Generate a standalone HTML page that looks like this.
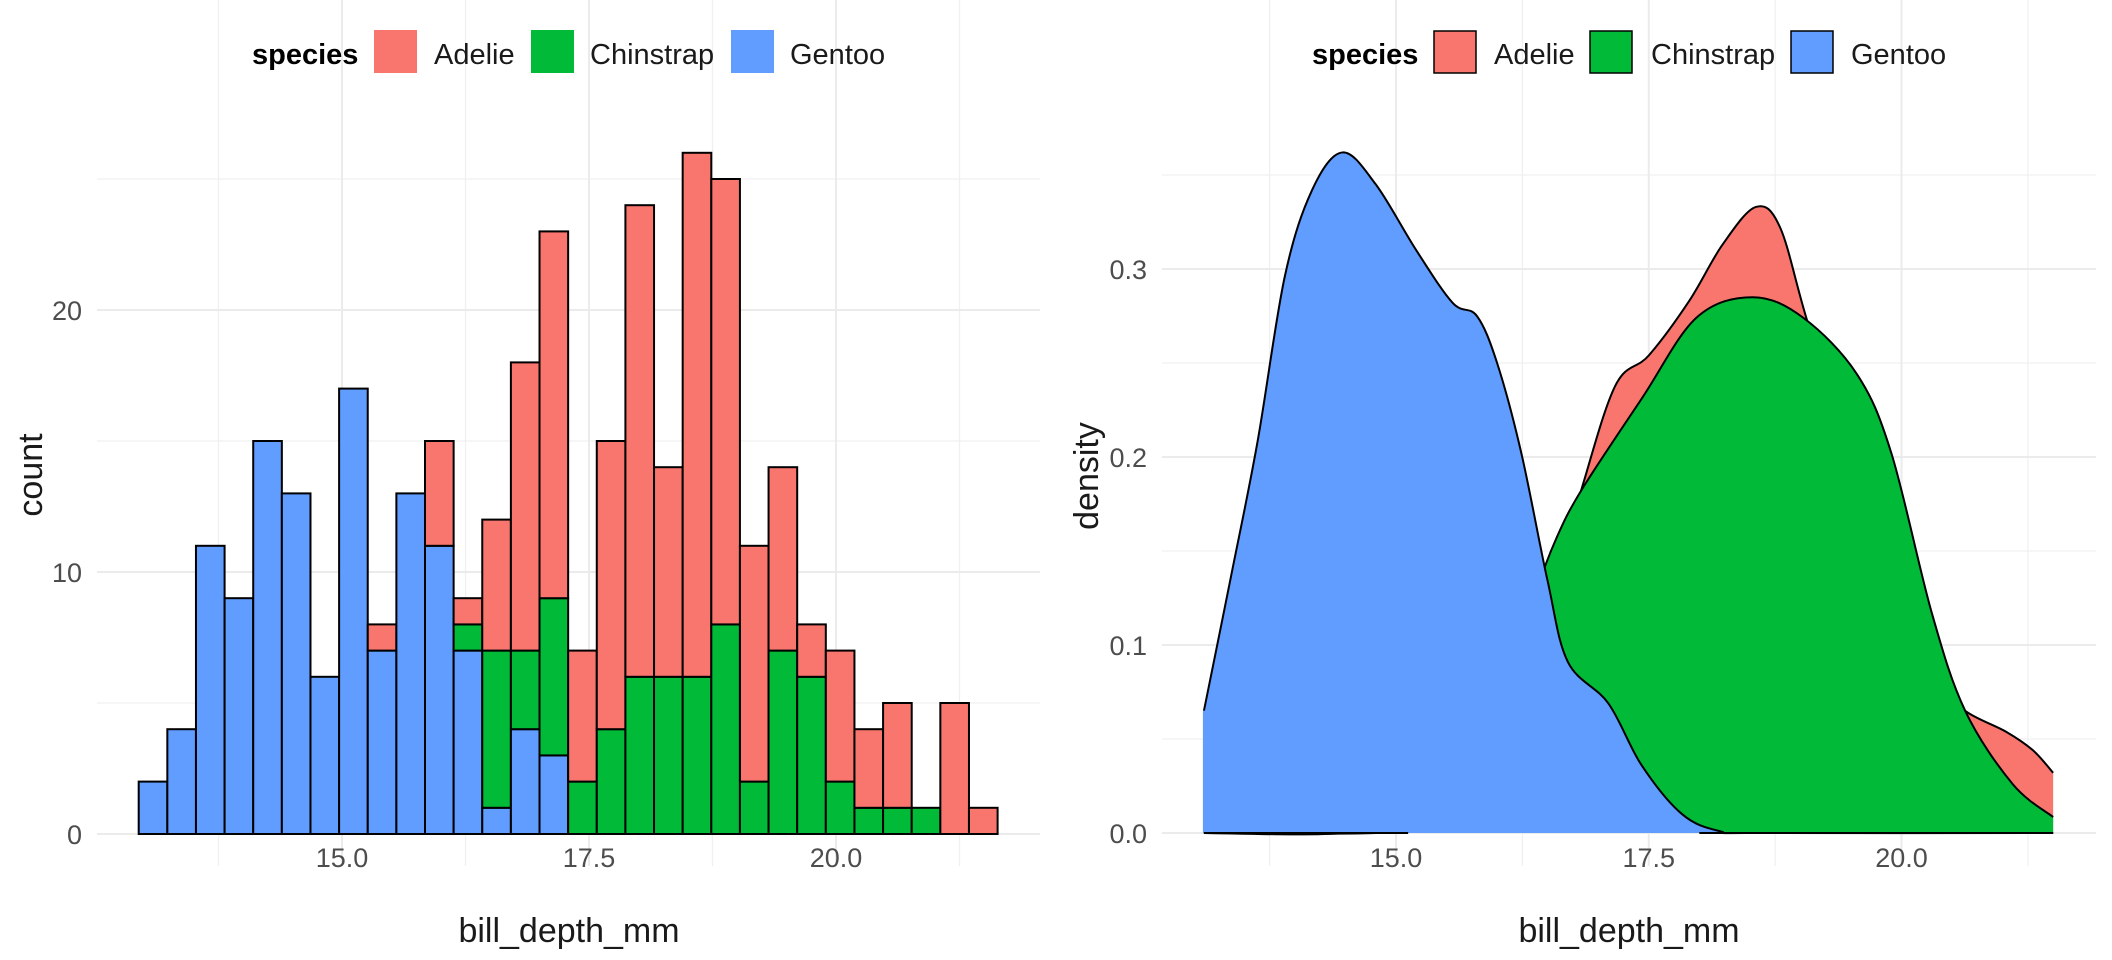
<!DOCTYPE html>
<html><head><meta charset="utf-8"><style>
html,body{margin:0;padding:0;background:#fff;}
svg{display:block;font-family:"Liberation Sans",Arial,sans-serif;}
</style></head><body>
<svg id="s" width="2112" height="960" xmlns="http://www.w3.org/2000/svg">
<rect width="2112" height="960" fill="#fff"/>
<g id="grid"></g>
<g id="left"></g>
<g id="right"></g>
<g id="txt" fill="#4D4D4D" font-size="27">
</g>
<g font-size="29">
<text x="252" y="64" font-weight="bold" fill="#000">species</text>
<rect x="374" y="30" width="43" height="43" fill="#F8766D"/>
<text x="434" y="64" fill="#1a1a1a">Adelie</text>
<rect x="531" y="30" width="43" height="43" fill="#00BA38"/>
<text x="590" y="64" fill="#1a1a1a">Chinstrap</text>
<rect x="731" y="30" width="43" height="43" fill="#619CFF"/>
<text x="790" y="64" fill="#1a1a1a">Gentoo</text>

<text x="1312" y="64" font-weight="bold" fill="#000">species</text>
<rect x="1434" y="31" width="42" height="42" fill="#F8766D" stroke="#000" stroke-width="1.5"/>
<text x="1494" y="64" fill="#1a1a1a">Adelie</text>
<rect x="1590" y="31" width="42" height="42" fill="#00BA38" stroke="#000" stroke-width="1.5"/>
<text x="1651" y="64" fill="#1a1a1a">Chinstrap</text>
<rect x="1791" y="31" width="42" height="42" fill="#619CFF" stroke="#000" stroke-width="1.5"/>
<text x="1851" y="64" fill="#1a1a1a">Gentoo</text>
</g>
<g font-size="34" fill="#1a1a1a">
<text x="569" y="942" text-anchor="middle">bill_depth_mm</text>
<text x="1629" y="942" text-anchor="middle">bill_depth_mm</text>
<text transform="translate(42,475) rotate(-90)" text-anchor="middle">count</text>
<text transform="translate(1098,476) rotate(-90)" text-anchor="middle">density</text>
</g>
</svg>
<script>
var NS="http://www.w3.org/2000/svg";
function el(p,t,a,txt){var e=document.createElementNS(NS,t);for(var k in a)e.setAttribute(k,a[k]);if(txt!==undefined)e.textContent=txt;p.appendChild(e);return e;}
var grid=document.getElementById('grid'),L=document.getElementById('left'),R=document.getElementById('right'),T=document.getElementById('txt');
var lx=function(v){return 342+(v-15)*98.8;}, ly=function(c){return 834-c*26.2;};
var top=119,bot=866;
[13.75,16.25,18.75,21.25].forEach(function(v){el(grid,'line',{x1:lx(v),x2:lx(v),y1:top,y2:bot,stroke:'#F0F0F0','stroke-width':1.3});});
[5,15,25].forEach(function(v){el(grid,'line',{x1:97,x2:1040,y1:ly(v),y2:ly(v),stroke:'#F0F0F0','stroke-width':1.3});});
[15,17.5,20].forEach(function(v){el(grid,'line',{x1:lx(v),x2:lx(v),y1:top,y2:bot,stroke:'#EBEBEB','stroke-width':2});
 el(T,'text',{x:lx(v),y:867,'text-anchor':'middle'},v.toFixed(1));});
[0,10,20].forEach(function(v){el(grid,'line',{x1:97,x2:1040,y1:ly(v),y2:ly(v),stroke:'#EBEBEB','stroke-width':2});
 el(T,'text',{x:82,y:ly(v)+10,'text-anchor':'end'},String(v));});
var bars=[[2,0,0],[4,0,0],[11,0,0],[9,0,0],[15,0,0],[13,0,0],[6,0,0],[17,0,0],[7,0,1],[13,0,0],[11,0,4],[7,1,1],[1,6,5],[4,3,11],[3,6,14],[0,2,5],[0,4,11],[0,6,18],[0,6,8],[0,6,20],[0,8,17],[0,2,9],[0,7,7],[0,6,2],[0,2,5],[0,1,3],[0,1,4],[0,1,0],[0,0,5],[0,0,1]];
var cols=['#619CFF','#00BA38','#F8766D'];
var x0=138.7,w=28.63;
bars.forEach(function(b,i){var base=0;for(var k=0;k<3;k++){if(b[k]>0){var y1=ly(base+b[k]),y2=ly(base);
 el(L,'rect',{x:x0+i*w,y:y1,width:w,height:y2-y1,fill:cols[k],stroke:'#000','stroke-width':2});base+=b[k];}}});
var rx=function(v){return 1396+(v-15)*101.1;}, ry=function(d){return 833-d*1880;};
[13.75,16.25,18.75,21.25].forEach(function(v){el(grid,'line',{x1:rx(v),x2:rx(v),y1:top,y2:bot,stroke:'#F0F0F0','stroke-width':1.3});});
[0.05,0.15,0.25,0.35].forEach(function(v){el(grid,'line',{x1:1162,x2:2096,y1:ry(v),y2:ry(v),stroke:'#F0F0F0','stroke-width':1.3});});
[15,17.5,20].forEach(function(v){el(grid,'line',{x1:rx(v),x2:rx(v),y1:top,y2:bot,stroke:'#EBEBEB','stroke-width':2});
 el(T,'text',{x:rx(v),y:867,'text-anchor':'middle'},v.toFixed(1));});
[0,0.1,0.2,0.3].forEach(function(v){el(grid,'line',{x1:1162,x2:2096,y1:ry(v),y2:ry(v),stroke:'#EBEBEB','stroke-width':2});
 el(T,'text',{x:1147,y:ry(v)+10,'text-anchor':'end'},v.toFixed(1));});
function smooth(pts){var s='M'+pts[0][0]+','+pts[0][1];
 for(var i=0;i<pts.length-1;i++){var p0=pts[Math.max(0,i-1)],p1=pts[i],p2=pts[i+1],p3=pts[Math.min(pts.length-1,i+2)];
  var c1=[p1[0]+(p2[0]-p0[0])/6,p1[1]+(p2[1]-p0[1])/6],c2=[p2[0]-(p3[0]-p1[0])/6,p2[1]-(p3[1]-p1[1])/6];
  s+=' C'+c1[0]+','+c1[1]+' '+c2[0]+','+c2[1]+' '+p2[0]+','+p2[1];}return s;}
function dens(data,fill){var pts=data.map(function(d){return [rx(d[0]),ry(d[1])];});
 var d=smooth(pts);
 el(R,'path',{d:d+' L'+rx(21.5)+','+ry(0)+' L'+rx(13.1)+','+ry(0)+' Z',fill:fill,stroke:'none'});
 el(R,'path',{d:d,fill:'none',stroke:'#000','stroke-width':2});}
var A=[[13.1,0],[14.5,0],[15.5,0.01],[16.0,0.05],[16.5,0.12],[16.83,0.182],[17.17,0.238],[17.5,0.254],[17.9,0.283],[18.23,0.313],[18.56,0.333],[18.8,0.322],[19.07,0.272],[19.5,0.2],[20.0,0.13],[20.4,0.08],[20.63,0.065],[21.03,0.054],[21.3,0.044],[21.5,0.032]];
var C=[[13.1,0],[14.8,0],[15.2,0.005],[15.8,0.04],[16.2,0.09],[16.4,0.13],[16.58,0.156],[16.83,0.182],[17.43,0.231],[17.97,0.274],[18.53,0.285],[19.03,0.274],[19.56,0.244],[19.9,0.202],[20.3,0.117],[20.63,0.065],[21.1,0.026],[21.5,0.0085]];
var G=[[13.1,0.065],[13.37,0.137],[13.63,0.208],[13.9,0.296],[14.17,0.342],[14.47,0.362],[14.8,0.345],[15.2,0.31],[15.56,0.282],[15.8,0.275],[16.0,0.25],[16.24,0.202],[16.5,0.134],[16.7,0.091],[17.1,0.069],[17.43,0.036],[17.83,0.01],[18.2,0.001],[18.6,0],[21.5,0]];
dens(A,'#F8766D');dens(C,'#00BA38');dens(G,'#619CFF');
el(R,'line',{x1:rx(13.1),x2:rx(13.1),y1:ry(0),y2:ry(0.065),stroke:'#619CFF','stroke-width':2});
el(R,'line',{x1:rx(13.1),x2:rx(15.12),y1:ry(0),y2:ry(0),stroke:'#000','stroke-width':2});
el(R,'line',{x1:rx(18.0),x2:rx(21.5),y1:ry(0),y2:ry(0),stroke:'#000','stroke-width':2});
</script>
</body></html>
